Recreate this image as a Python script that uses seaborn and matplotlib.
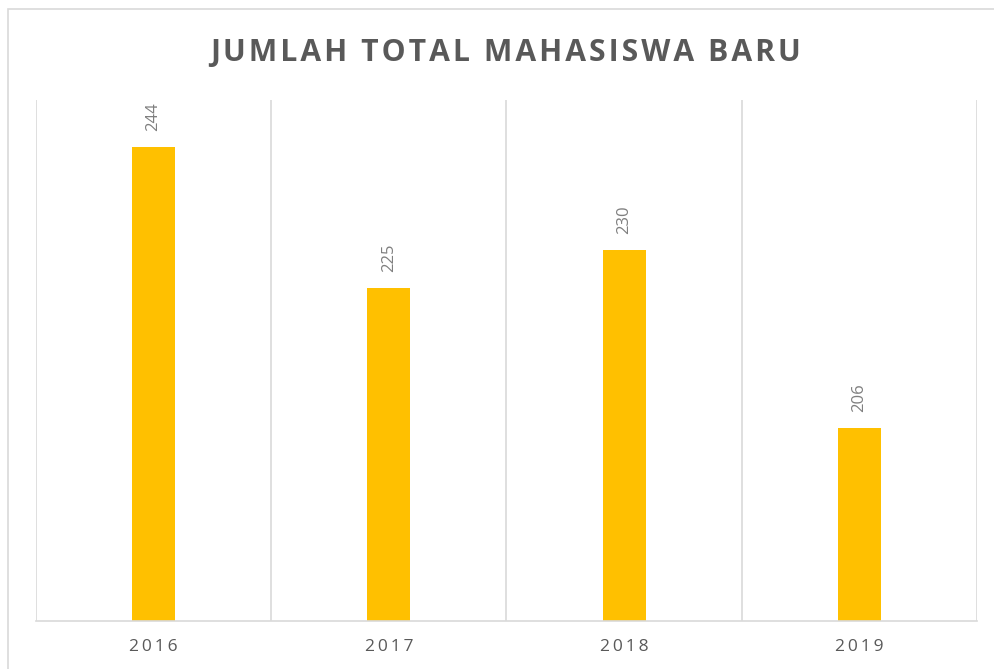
import matplotlib
matplotlib.use("Agg")
import matplotlib.pyplot as plt
import seaborn as sns
import pandas as pd
from matplotlib.patches import Rectangle

years = ["2016", "2017", "2018", "2019"]
values = [244, 225, 230, 206]
title = "JUMLAH TOTAL MAHASISWA BARU"

sns.set_theme(style="white")
plt.rcParams['font.family'] = ['Open Sans', 'DejaVu Sans']

def spaced(s, sp="\u200a"):
    return sp.join(list(s))

df = pd.DataFrame({"year": years, "value": values})

fig = plt.figure(figsize=(9.95, 6.69), dpi=100)
ax = fig.add_axes([36/995, 1-621/669, (977-36)/995, (621-100)/669])

sns.barplot(data=df, x="year", y="value", color="#FFC000", width=0.183,
            saturation=1, ax=ax, edgecolor="none")

ax.set_ylim(180, 250.3)
ax.set_xlim(-0.5, len(years)-0.5)
ax.set_yticks([])
ax.set_xlabel("")
ax.set_ylabel("")
for sp in ["top", "right", "left"]:
    ax.spines[sp].set_visible(False)
ax.spines["bottom"].set_color("#d9d9d9")
ax.spines["bottom"].set_linewidth(1.2)

for b in [i - 0.5 for i in range(len(years)+1)]:
    ax.axvline(b, color="#d9d9d9", lw=1.2, zorder=0)

ax.set_xticks(range(len(years)))
ax.set_xticklabels([spaced(y, "\u2009") for y in years], color="#595959", fontsize=12.5)
ax.tick_params(axis="x", length=0, pad=13)

for i, v in enumerate(values):
    ax.annotate(str(v), (i, v), xytext=(0, 11.5), textcoords="offset points",
                rotation=90, ha="center", va="bottom", color="#7f7f7f", fontsize=12)

fig.text(506/995, 1-53/669, spaced(title, "\u200a"), ha="center", va="center",
         fontsize=21.7, fontweight="bold", color="#595959")

fig.patches.append(Rectangle((8/995, -0.1), 1.2, 1 - 9/669 + 0.1, transform=fig.transFigure,
                             fill=False, edgecolor="#d9d9d9", lw=1.2))

fig.savefig("out.png", dpi=100)
